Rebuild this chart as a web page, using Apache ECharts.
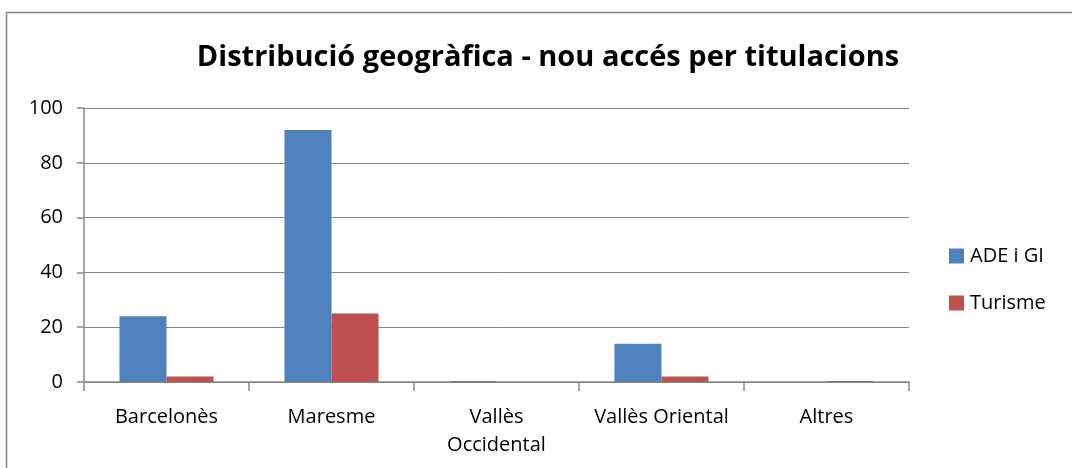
<!DOCTYPE html>
<html><head><meta charset="utf-8">
<script src="https://cdn.jsdelivr.net/npm/echarts@6/dist/echarts.min.js"></script>
<style>html,body{margin:0;padding:0;background:#fff}#c{width:1072px;height:468px}</style>
</head><body><div id="c"></div>
<script>
const categories = ['Barcelonès', 'Maresme', 'Vallès\nOccidental', 'Vallès Oriental', 'Altres'];
const adeValues = [24, 92, 0.4, 14, 0];
const turismeValues = [2, 25, 0, 2, 0.4];
const yTicks = [0, 20, 40, 60, 80, 100];
const seriesNames = ['ADE i GI', 'Turisme'];

const chart = echarts.init(document.getElementById('c'), null, {renderer: 'canvas'});
const font = '"Open Sans", "DejaVu Sans", sans-serif';
chart.setOption({
  animation: false,
  textStyle: {fontFamily: font},
  graphic: [{
    type: 'rect', shape: {x: 6.5, y: 12.5, width: 1200, height: 600},
    style: {fill: 'none', stroke: '#878787', lineWidth: 1.5}, silent: true
  }],
  title: {
    text: 'Distribució geogràfica - nou accés per titulacions',
    left: 543, top: 38, textAlign: 'center',
    textStyle: {fontFamily: font, fontWeight: 'bold', fontSize: 29, color: '#000'}
  },
  legend: {
    orient: 'vertical', left: 944, top: 241,
    itemWidth: 15, itemHeight: 15, itemGap: 27,
    icon: 'rect',
    textStyle: {fontFamily: font, fontSize: 20, color: '#000', padding: [0, 0, 0, 1]},
    data: seriesNames
  },
  grid: {left: 84, right: 163, top: 108, bottom: 86, containLabel: false},
  xAxis: {
    type: 'category', data: categories,
    axisLine: {lineStyle: {color: '#878787', width: 1.5}},
    axisTick: {show: true, length: 9, interval: 0, lineStyle: {color: '#878787', width: 1.5}},
    axisLabel: {interval: 0, margin: 21, fontSize: 20, color: '#000', fontFamily: font, lineHeight: 28}
  },
  yAxis: {
    type: 'value', min: yTicks[0], max: yTicks[yTicks.length - 1], interval: 20,
    axisLine: {show: true, lineStyle: {color: '#878787', width: 1.5}},
    axisTick: {show: true, length: 7, lineStyle: {color: '#878787', width: 1.5}},
    splitLine: {lineStyle: {color: '#878787', width: 1}},
    axisLabel: {margin: 21, fontSize: 20, color: '#000', fontFamily: font}
  },
  series: [
    {name: seriesNames[0], type: 'bar', data: adeValues, barGap: '0%', barCategoryGap: '43%',
     itemStyle: {color: '#4F81BD'}},
    {name: seriesNames[1], type: 'bar', data: turismeValues, barGap: '0%', barCategoryGap: '43%',
     itemStyle: {color: '#C0504D'}}
  ]
});
</script></body></html>
